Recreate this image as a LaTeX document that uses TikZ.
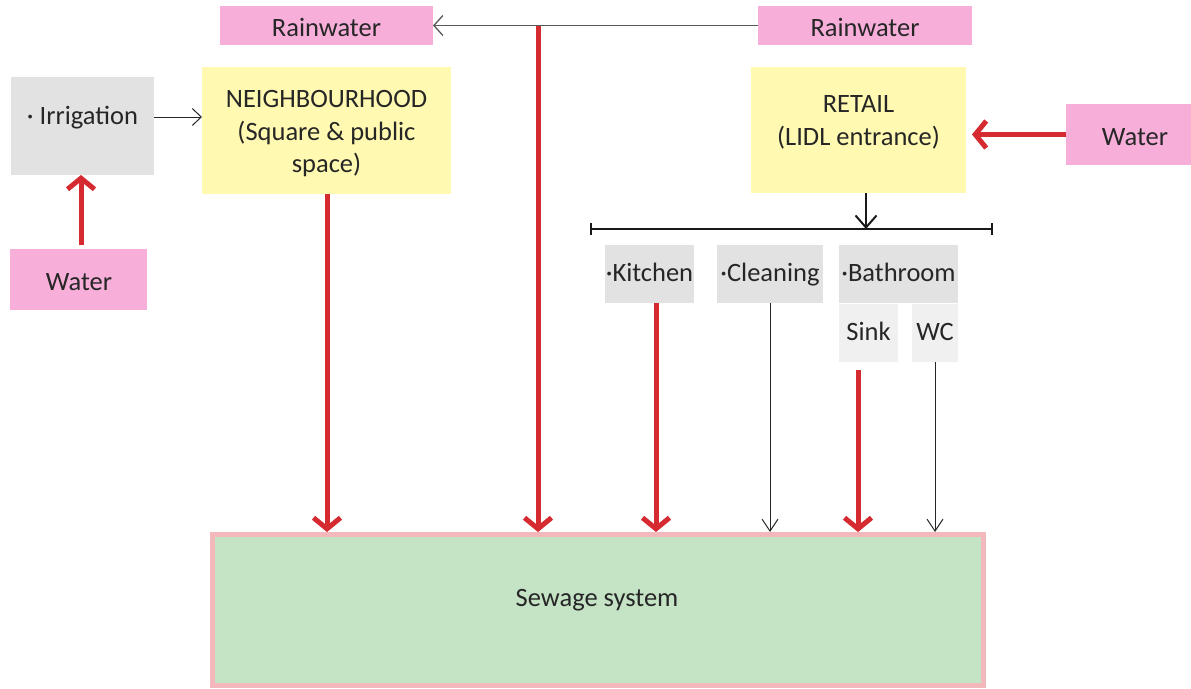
\documentclass[tikz,border=0pt]{standalone}
\usepackage{fontspec}
\setmainfont{Carlito}
\usetikzlibrary{arrows.meta}
\definecolor{pinkf}{HTML}{F7AFDA}
\definecolor{yel}{HTML}{FFF9B1}
\definecolor{grayf}{HTML}{E2E2E2}
\definecolor{lgrayf}{HTML}{F0F0F0}
\definecolor{greenf}{HTML}{C5E3C5}
\definecolor{sewb}{HTML}{F2B8BC}
\definecolor{redc}{HTML}{D42A30}
\definecolor{txt}{HTML}{262626}
\definecolor{lgline}{HTML}{595959}
\tikzset{
  box/.style={inner sep=0pt, outer sep=0pt, align=center, text=txt},
  lab/.style={inner sep=0pt, outer sep=0pt, align=center, text=txt},
  blab/.style={inner sep=0pt, outer sep=0pt, text=txt, anchor=base},
  redarrow/.style={draw=redc, line width=5pt, -{Straight Barb[length=11pt,width=27pt]}},
  thinarrow/.style={draw=black!85, line width=1pt, -{Straight Barb[length=12pt,width=16pt]}},
  grayarrow/.style={draw=lgline, line width=1.3pt, -{Straight Barb[length=9pt,width=20pt]}},
  blackarrow/.style={draw=black!90, line width=2pt, -{Straight Barb[length=12pt,width=21pt]}},
  barline/.style={draw=black!90, line width=2.3pt, {Bar[width=12pt]}-{Bar[width=12pt]}}
}
\begin{document}
\begin{tikzpicture}[x=1pt,y=-1pt,font=\fontsize{26.5}{32.5}\selectfont]
\useasboundingbox (0,0) rectangle (1191,688);
% top rainwater
\node[box, fill=pinkf, minimum width=213pt, minimum height=39pt] (rainL) at (326.5,25.5) {};
\node[blab] (rainLlab) at (326.5,36) {Rainwater};
\node[box, fill=pinkf, minimum width=214pt, minimum height=39pt] (rainR) at (865,25.5) {};
\node[blab] (rainRlab) at (865,36) {Rainwater};
\coordinate (junc) at (538,26);
% left side
\node[box, fill=grayf, minimum width=143pt, minimum height=98pt] (irr) at (82.5,126) {};
\node[blab] (irrlab) at (82.5,124) {· Irrigation};
\coordinate (irrline) at (82.5,117);
\node[box, fill=pinkf, minimum width=137pt, minimum height=61pt] (wl) at (78.5,279.5) {};
\node[blab] (wllab) at (79,290) {Water};
\node[box, fill=yel, minimum width=249pt, minimum height=127pt] (neigh) at (326.5,130.5) {};
\node[lab] (neighlab) at (326.5,134) {NEIGHBOURHOOD\\(Square \& public\\space)};
% retail
\node[box, fill=yel, minimum width=215pt, minimum height=126pt] (ret) at (858.5,130) {};
\node[lab] (retlab) at (858.5,122.5) {RETAIL\\(LIDL entrance)};
\node[box, fill=pinkf, minimum width=138pt, minimum height=61pt] (wr) at (1135,134.5) {};
\node[blab] (wrlab) at (1135,145) {Water};
\coordinate (barL) at (590,229);
\coordinate (barR) at (993,229);
% uses
\node[box, fill=grayf, minimum width=89pt, minimum height=58pt] (kit) at (649.5,274) {};
\node[blab] (kitlab) at (649.5,281.7) {·Kitchen};
\node[box, fill=grayf, minimum width=106pt, minimum height=58pt] (clean) at (770,274) {};
\node[blab] (cleanlab) at (770,281.7) {·Cleaning};
\node[box, fill=grayf, minimum width=119pt, minimum height=58pt] (bath) at (898.5,274) {};
\node[blab] (bathlab) at (898.5,281.7) {·Bathroom};
\node[box, fill=lgrayf, minimum width=59pt, minimum height=58pt] (sink) at (868.5,333) {};
\node[blab] (sinklab) at (868.5,340.7) {Sink};
\node[box, fill=lgrayf, minimum width=46pt, minimum height=58pt] (wc) at (935,333) {};
\node[blab] (wclab) at (935,340.7) {WC};
% sewage
\node[draw=sewb, line width=5pt, fill=greenf, inner sep=0pt, minimum width=771pt, minimum height=151pt] (sew) at (598,610) {};
\node[blab] (sewlab) at (597,606.7) {Sewage system};
% connectors
\draw[grayarrow] (rainR.west) -- (rainL.east);
\draw[redarrow] (junc) -- (junc |- sew.north);
\draw[thinarrow, line width=1pt, -{Straight Barb[length=9pt,width=17pt]}] (irr.east |- irrline) -- (neigh.west |- irrline);
\draw[redarrow, shorten <=4pt] ([xshift=2.5pt]wl.north) -- ([xshift=2.5pt]wl.north |- irr.south);
\draw[redarrow] ([xshift=0.5pt]neigh.south) -- ([xshift=0.5pt]neigh.south |- sew.north);
\draw[redarrow, shorten >=6pt] (wr.west) -- (ret.east |- wr.west);
\draw[barline] (barL) -- (barR);
\draw[blackarrow] ([xshift=7.5pt]ret.south) -- ([xshift=7.5pt]ret.south |- barL);
\draw[redarrow] ([xshift=6.5pt]kit.south) -- ([xshift=6.5pt]kit.south |- sew.north);
\draw[thinarrow] (clean.south) -- (clean.south |- sew.north);
\draw[redarrow, shorten <=8pt] ([xshift=-10.5pt]sink.south) -- ([xshift=-10.5pt]sink.south |- sew.north);
\draw[thinarrow] (wc.south) -- (wc.south |- sew.north);
\end{tikzpicture}
\end{document}
